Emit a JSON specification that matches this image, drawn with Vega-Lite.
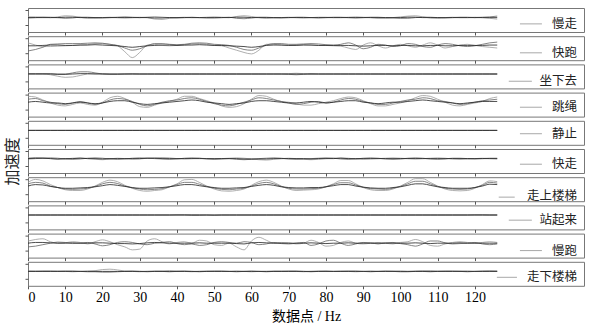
{
"$schema": "https://vega.github.io/schema/vega-lite/v6.json",
"background": "white",
"padding": {"left": 4, "top": 7, "right": 5, "bottom": 4},
"spacing": 4.2,
"bounds": "flush",
"config": {
  "view": {"stroke": "#777", "strokeWidth": 1},
  "axis": {"grid": false, "domain": false, "tickColor": "#555", "tickSize": 3, "labels": false, "titleFontWeight": "normal"}
},
"datasets": {
"d": [
{"act":"慢走","t":0,"x":0.1,"y":-0.05,"z":0},{"act":"慢走","t":2,"x":0.1,"y":0,"z":0},{"act":"慢走","t":4,"x":0.05,"y":0.05,"z":0},{"act":"慢走","t":6,"x":0,"y":0.05,"z":0},{"act":"慢走","t":8,"x":0.1,"y":0,"z":0},{"act":"慢走","t":10,"x":0.25,"y":-0.1,"z":0.05},{"act":"慢走","t":12,"x":0.2,"y":-0.05,"z":0.05},{"act":"慢走","t":14,"x":0.05,"y":0.05,"z":0},{"act":"慢走","t":16,"x":-0.1,"y":0.05,"z":0},{"act":"慢走","t":18,"x":-0.1,"y":0,"z":0},{"act":"慢走","t":20,"x":0,"y":-0.05,"z":0},{"act":"慢走","t":22,"x":0.05,"y":0,"z":0},{"act":"慢走","t":24,"x":0,"y":0.05,"z":0},{"act":"慢走","t":26,"x":-0.05,"y":0.1,"z":0},{"act":"慢走","t":28,"x":0,"y":0.05,"z":0},{"act":"慢走","t":30,"x":0.05,"y":0,"z":0},{"act":"慢走","t":32,"x":0,"y":0.05,"z":0},{"act":"慢走","t":34,"x":-0.2,"y":0.1,"z":-0.05},{"act":"慢走","t":36,"x":-0.25,"y":0.05,"z":-0.05},{"act":"慢走","t":38,"x":-0.1,"y":0,"z":0},{"act":"慢走","t":40,"x":0,"y":-0.05,"z":0},{"act":"慢走","t":42,"x":0.05,"y":0,"z":0},{"act":"慢走","t":44,"x":0,"y":0.05,"z":0},{"act":"慢走","t":46,"x":0,"y":0,"z":0},{"act":"慢走","t":48,"x":0.05,"y":-0.05,"z":0},{"act":"慢走","t":50,"x":0.1,"y":-0.05,"z":0},{"act":"慢走","t":52,"x":0.05,"y":0,"z":0},{"act":"慢走","t":54,"x":0,"y":0.05,"z":0},{"act":"慢走","t":56,"x":0.15,"y":-0.1,"z":0.05},{"act":"慢走","t":58,"x":0.25,"y":-0.15,"z":0.05},{"act":"慢走","t":60,"x":0.15,"y":-0.05,"z":0},{"act":"慢走","t":62,"x":0,"y":0.05,"z":0},{"act":"慢走","t":64,"x":-0.1,"y":0.05,"z":0},{"act":"慢走","t":66,"x":-0.05,"y":0,"z":0},{"act":"慢走","t":68,"x":0,"y":-0.05,"z":0},{"act":"慢走","t":70,"x":0.05,"y":0,"z":0},{"act":"慢走","t":72,"x":0,"y":0.05,"z":0},{"act":"慢走","t":74,"x":-0.05,"y":0.05,"z":0},{"act":"慢走","t":76,"x":0,"y":0,"z":0},{"act":"慢走","t":78,"x":0.05,"y":-0.05,"z":0},{"act":"慢走","t":80,"x":0.05,"y":0,"z":0},{"act":"慢走","t":82,"x":0,"y":0.05,"z":0},{"act":"慢走","t":84,"x":0,"y":0.05,"z":0},{"act":"慢走","t":86,"x":0.05,"y":0,"z":0},{"act":"慢走","t":88,"x":0.1,"y":-0.05,"z":0},{"act":"慢走","t":90,"x":0.05,"y":0,"z":0},{"act":"慢走","t":92,"x":0,"y":0.05,"z":0},{"act":"慢走","t":94,"x":-0.1,"y":0.05,"z":0},{"act":"慢走","t":96,"x":-0.1,"y":0,"z":0},{"act":"慢走","t":98,"x":0,"y":-0.05,"z":0},{"act":"慢走","t":100,"x":0.1,"y":-0.1,"z":0},{"act":"慢走","t":102,"x":0.2,"y":-0.1,"z":0.05},{"act":"慢走","t":104,"x":0.25,"y":0,"z":0.05},{"act":"慢走","t":106,"x":0.1,"y":0.05,"z":0},{"act":"慢走","t":108,"x":-0.05,"y":0.05,"z":0},{"act":"慢走","t":110,"x":-0.1,"y":0,"z":0},{"act":"慢走","t":112,"x":0,"y":-0.05,"z":0},{"act":"慢走","t":114,"x":0.05,"y":0,"z":0},{"act":"慢走","t":116,"x":0,"y":0.05,"z":0},{"act":"慢走","t":118,"x":0,"y":0.05,"z":0},{"act":"慢走","t":120,"x":0.05,"y":0,"z":0},{"act":"慢走","t":122,"x":0,"y":0.05,"z":0},{"act":"慢走","t":124,"x":-0.1,"y":0.1,"z":0},{"act":"慢走","t":126,"x":-0.2,"y":0.2,"z":0},
{"act":"快跑","t":0,"x":0.4,"y":-0.7,"z":0},{"act":"快跑","t":2,"x":0.1,"y":-0.5,"z":0},{"act":"快跑","t":4,"x":-0.1,"y":-0.2,"z":0.05},{"act":"快跑","t":6,"x":-0.1,"y":0.2,"z":0.1},{"act":"快跑","t":8,"x":-0.05,"y":0.25,"z":0.1},{"act":"快跑","t":10,"x":0,"y":0.3,"z":0.05},{"act":"快跑","t":12,"x":0.05,"y":0.3,"z":0.05},{"act":"快跑","t":14,"x":0.1,"y":0.3,"z":0.1},{"act":"快跑","t":16,"x":0.15,"y":0.35,"z":0.1},{"act":"快跑","t":18,"x":0.3,"y":0.4,"z":0.15},{"act":"快跑","t":20,"x":0.3,"y":0.35,"z":0.1},{"act":"快跑","t":22,"x":0.2,"y":0.2,"z":0.05},{"act":"快跑","t":24,"x":0,"y":0.05,"z":0},{"act":"快跑","t":26,"x":-0.8,"y":-0.3,"z":-0.1},{"act":"快跑","t":28,"x":-1.6,"y":-0.6,"z":-0.2},{"act":"快跑","t":30,"x":-0.9,"y":-0.4,"z":-0.1},{"act":"快跑","t":32,"x":0.1,"y":0,"z":0},{"act":"快跑","t":34,"x":0.2,"y":0.3,"z":0.05},{"act":"快跑","t":36,"x":0.05,"y":0.3,"z":0.1},{"act":"快跑","t":38,"x":0,"y":0.2,"z":0.1},{"act":"快跑","t":40,"x":0.05,"y":0.15,"z":0.05},{"act":"快跑","t":42,"x":0.1,"y":0.2,"z":0.1},{"act":"快跑","t":44,"x":0.25,"y":0.35,"z":0.1},{"act":"快跑","t":46,"x":0.3,"y":0.4,"z":0.15},{"act":"快跑","t":48,"x":0.2,"y":0.35,"z":0.1},{"act":"快跑","t":50,"x":0.05,"y":0.2,"z":0.05},{"act":"快跑","t":52,"x":0,"y":0.15,"z":0.05},{"act":"快跑","t":54,"x":-0.3,"y":0.05,"z":0},{"act":"快跑","t":56,"x":-0.6,"y":-0.2,"z":-0.05},{"act":"快跑","t":58,"x":-0.9,"y":-0.5,"z":-0.1},{"act":"快跑","t":60,"x":-1.1,"y":-0.6,"z":-0.2},{"act":"快跑","t":62,"x":-0.6,"y":-0.3,"z":-0.1},{"act":"快跑","t":64,"x":0.2,"y":0.1,"z":0.05},{"act":"快跑","t":66,"x":0.2,"y":0.3,"z":0.1},{"act":"快跑","t":68,"x":0.1,"y":0.3,"z":0.1},{"act":"快跑","t":70,"x":0.05,"y":0.2,"z":0.05},{"act":"快跑","t":72,"x":0.1,"y":0.2,"z":0.05},{"act":"快跑","t":74,"x":0.15,"y":0.25,"z":0.1},{"act":"快跑","t":76,"x":0.1,"y":0.3,"z":0.1},{"act":"快跑","t":78,"x":0.05,"y":0.25,"z":0.05},{"act":"快跑","t":80,"x":0.05,"y":0.15,"z":0.05},{"act":"快跑","t":82,"x":0,"y":0.1,"z":0.05},{"act":"快跑","t":84,"x":-0.05,"y":0.2,"z":0.05},{"act":"快跑","t":86,"x":-0.3,"y":0.4,"z":0.05},{"act":"快跑","t":88,"x":-0.5,"y":0.1,"z":0},{"act":"快跑","t":90,"x":0.1,"y":-0.4,"z":-0.05},{"act":"快跑","t":92,"x":0.4,"y":-0.2,"z":0},{"act":"快跑","t":94,"x":0,"y":0.2,"z":0.05},{"act":"快跑","t":96,"x":-0.3,"y":0.1,"z":0.05},{"act":"快跑","t":98,"x":0,"y":-0.1,"z":0},{"act":"快跑","t":100,"x":0.2,"y":0,"z":0.05},{"act":"快跑","t":102,"x":0,"y":0.3,"z":0.05},{"act":"快跑","t":104,"x":-0.2,"y":0.2,"z":0},{"act":"快跑","t":106,"x":0.1,"y":-0.1,"z":0},{"act":"快跑","t":108,"x":0.4,"y":-0.2,"z":0.05},{"act":"快跑","t":110,"x":0.1,"y":0.1,"z":0.05},{"act":"快跑","t":112,"x":-0.3,"y":0.3,"z":0},{"act":"快跑","t":114,"x":-0.1,"y":0.2,"z":0},{"act":"快跑","t":116,"x":0.1,"y":0,"z":0.05},{"act":"快跑","t":118,"x":0.2,"y":-0.1,"z":0.05},{"act":"快跑","t":120,"x":0.05,"y":0,"z":0.05},{"act":"快跑","t":122,"x":-0.1,"y":0.2,"z":0.05},{"act":"快跑","t":124,"x":-0.2,"y":0.4,"z":0.1},{"act":"快跑","t":126,"x":-0.3,"y":0.5,"z":0.1},
{"act":"坐下去","t":0,"x":0,"y":0.05,"z":0},{"act":"坐下去","t":2,"x":0,"y":0.05,"z":0},{"act":"坐下去","t":4,"x":0,"y":0.05,"z":0},{"act":"坐下去","t":6,"x":-0.1,"y":0.05,"z":0},{"act":"坐下去","t":8,"x":-0.3,"y":0,"z":-0.05},{"act":"坐下去","t":10,"x":-0.45,"y":0,"z":-0.05},{"act":"坐下去","t":12,"x":-0.4,"y":0.15,"z":0},{"act":"坐下去","t":14,"x":-0.2,"y":0.3,"z":0.05},{"act":"坐下去","t":16,"x":0,"y":0.3,"z":0.05},{"act":"坐下去","t":18,"x":0.05,"y":0.15,"z":0},{"act":"坐下去","t":20,"x":0.05,"y":0,"z":0},{"act":"坐下去","t":22,"x":0,"y":-0.05,"z":0},{"act":"坐下去","t":24,"x":0,"y":-0.05,"z":0},{"act":"坐下去","t":26,"x":0,"y":0,"z":0},{"act":"坐下去","t":28,"x":0.05,"y":0,"z":0},{"act":"坐下去","t":30,"x":0,"y":0,"z":0},{"act":"坐下去","t":32,"x":0,"y":0,"z":0},{"act":"坐下去","t":34,"x":0,"y":0,"z":0},{"act":"坐下去","t":36,"x":0,"y":0,"z":0},{"act":"坐下去","t":38,"x":0,"y":0,"z":0},{"act":"坐下去","t":40,"x":0,"y":0,"z":0},{"act":"坐下去","t":42,"x":0,"y":0,"z":0},{"act":"坐下去","t":44,"x":0,"y":0,"z":0},{"act":"坐下去","t":46,"x":0,"y":0,"z":0},{"act":"坐下去","t":48,"x":0,"y":0,"z":0},{"act":"坐下去","t":50,"x":0,"y":0,"z":0},{"act":"坐下去","t":52,"x":0,"y":0,"z":0},{"act":"坐下去","t":54,"x":0,"y":0,"z":0},{"act":"坐下去","t":56,"x":0,"y":0,"z":0},{"act":"坐下去","t":58,"x":0,"y":0,"z":0},{"act":"坐下去","t":60,"x":0,"y":0,"z":0},{"act":"坐下去","t":62,"x":0,"y":0,"z":0},{"act":"坐下去","t":64,"x":0,"y":0,"z":0},{"act":"坐下去","t":66,"x":0,"y":0,"z":0},{"act":"坐下去","t":68,"x":0,"y":0,"z":0},{"act":"坐下去","t":70,"x":0.05,"y":-0.05,"z":0},{"act":"坐下去","t":72,"x":0.1,"y":-0.1,"z":0},{"act":"坐下去","t":74,"x":0.05,"y":-0.05,"z":0},{"act":"坐下去","t":76,"x":-0.05,"y":0.05,"z":0},{"act":"坐下去","t":78,"x":0,"y":0,"z":0},{"act":"坐下去","t":80,"x":0,"y":0,"z":0},{"act":"坐下去","t":82,"x":0,"y":0,"z":0},{"act":"坐下去","t":84,"x":0,"y":0,"z":0},{"act":"坐下去","t":86,"x":0,"y":0,"z":0},{"act":"坐下去","t":88,"x":0,"y":0,"z":0},{"act":"坐下去","t":90,"x":0,"y":0,"z":0},{"act":"坐下去","t":92,"x":0,"y":0,"z":0},{"act":"坐下去","t":94,"x":0,"y":0,"z":0},{"act":"坐下去","t":96,"x":0,"y":0,"z":0},{"act":"坐下去","t":98,"x":0,"y":0,"z":0},{"act":"坐下去","t":100,"x":0,"y":0,"z":0},{"act":"坐下去","t":102,"x":0,"y":0,"z":0},{"act":"坐下去","t":104,"x":0,"y":0,"z":0},{"act":"坐下去","t":106,"x":0,"y":0,"z":0},{"act":"坐下去","t":108,"x":0,"y":0,"z":0},{"act":"坐下去","t":110,"x":0,"y":0,"z":0},{"act":"坐下去","t":112,"x":0,"y":0,"z":0},{"act":"坐下去","t":114,"x":0,"y":0,"z":0},{"act":"坐下去","t":116,"x":0,"y":0,"z":0},{"act":"坐下去","t":118,"x":0,"y":0,"z":0},{"act":"坐下去","t":120,"x":0,"y":0,"z":0},{"act":"坐下去","t":122,"x":0,"y":0,"z":0},{"act":"坐下去","t":124,"x":0,"y":0,"z":0},{"act":"坐下去","t":126,"x":0,"y":0,"z":0},
{"act":"跳绳","t":0,"x":0.8,"y":0.4,"z":0},{"act":"跳绳","t":2,"x":0.7,"y":0.5,"z":0.1},{"act":"跳绳","t":4,"x":0.3,"y":0.2,"z":0},{"act":"跳绳","t":6,"x":-0.1,"y":0,"z":-0.1},{"act":"跳绳","t":8,"x":-0.4,"y":-0.2,"z":-0.1},{"act":"跳绳","t":10,"x":-0.5,"y":-0.3,"z":-0.2},{"act":"跳绳","t":12,"x":-0.3,"y":-0.1,"z":-0.1},{"act":"跳绳","t":14,"x":-0.1,"y":0.1,"z":0},{"act":"跳绳","t":16,"x":-0.3,"y":-0.1,"z":-0.1},{"act":"跳绳","t":18,"x":-0.4,"y":-0.3,"z":-0.2},{"act":"跳绳","t":20,"x":0,"y":-0.1,"z":-0.1},{"act":"跳绳","t":22,"x":0.6,"y":0.3,"z":0.1},{"act":"跳绳","t":24,"x":0.8,"y":0.5,"z":0.2},{"act":"跳绳","t":26,"x":0.5,"y":0.4,"z":0.2},{"act":"跳绳","t":28,"x":0,"y":0.1,"z":0},{"act":"跳绳","t":30,"x":-0.6,"y":-0.3,"z":-0.2},{"act":"跳绳","t":32,"x":-0.7,"y":-0.5,"z":-0.3},{"act":"跳绳","t":34,"x":-0.4,"y":-0.3,"z":-0.2},{"act":"跳绳","t":36,"x":-0.1,"y":0,"z":-0.1},{"act":"跳绳","t":38,"x":0.1,"y":0.2,"z":0},{"act":"跳绳","t":40,"x":0.4,"y":0.3,"z":0.1},{"act":"跳绳","t":42,"x":0.8,"y":0.5,"z":0.2},{"act":"跳绳","t":44,"x":0.8,"y":0.6,"z":0.3},{"act":"跳绳","t":46,"x":0.5,"y":0.4,"z":0.2},{"act":"跳绳","t":48,"x":0.2,"y":0.1,"z":0},{"act":"跳绳","t":50,"x":-0.1,"y":-0.2,"z":-0.1},{"act":"跳绳","t":52,"x":-0.5,"y":-0.4,"z":-0.2},{"act":"跳绳","t":54,"x":-0.7,"y":-0.5,"z":-0.3},{"act":"跳绳","t":56,"x":-0.6,"y":-0.3,"z":-0.2},{"act":"跳绳","t":58,"x":-0.2,"y":0,"z":-0.1},{"act":"跳绳","t":60,"x":0.4,"y":0.3,"z":0.1},{"act":"跳绳","t":62,"x":0.9,"y":0.6,"z":0.2},{"act":"跳绳","t":64,"x":0.8,"y":0.5,"z":0.2},{"act":"跳绳","t":66,"x":0.4,"y":0.3,"z":0.1},{"act":"跳绳","t":68,"x":0.1,"y":0.1,"z":0},{"act":"跳绳","t":70,"x":0,"y":-0.1,"z":-0.1},{"act":"跳绳","t":72,"x":-0.2,"y":-0.3,"z":-0.1},{"act":"跳绳","t":74,"x":-0.4,"y":-0.2,"z":0},{"act":"跳绳","t":76,"x":-0.4,"y":0,"z":0.1},{"act":"跳绳","t":78,"x":-0.2,"y":0.1,"z":0},{"act":"跳绳","t":80,"x":0,"y":-0.1,"z":-0.1},{"act":"跳绳","t":82,"x":0.2,"y":0,"z":0},{"act":"跳绳","t":84,"x":0.5,"y":0.3,"z":0.1},{"act":"跳绳","t":86,"x":0.7,"y":0.5,"z":0.2},{"act":"跳绳","t":88,"x":0.6,"y":0.4,"z":0.2},{"act":"跳绳","t":90,"x":0.2,"y":0.1,"z":0},{"act":"跳绳","t":92,"x":-0.2,"y":-0.1,"z":-0.1},{"act":"跳绳","t":94,"x":-0.5,"y":-0.3,"z":-0.2},{"act":"跳绳","t":96,"x":-0.5,"y":-0.3,"z":-0.1},{"act":"跳绳","t":98,"x":-0.3,"y":-0.1,"z":0},{"act":"跳绳","t":100,"x":-0.1,"y":0.1,"z":0},{"act":"跳绳","t":102,"x":0.2,"y":0.3,"z":0.1},{"act":"跳绳","t":104,"x":0.6,"y":0.4,"z":0.2},{"act":"跳绳","t":106,"x":0.9,"y":0.6,"z":0.3},{"act":"跳绳","t":108,"x":0.8,"y":0.5,"z":0.2},{"act":"跳绳","t":110,"x":0.4,"y":0.2,"z":0.1},{"act":"跳绳","t":112,"x":0,"y":0.1,"z":0},{"act":"跳绳","t":114,"x":-0.4,"y":-0.1,"z":-0.1},{"act":"跳绳","t":116,"x":-0.5,"y":-0.3,"z":-0.2},{"act":"跳绳","t":118,"x":-0.3,"y":-0.2,"z":-0.1},{"act":"跳绳","t":120,"x":-0.1,"y":0,"z":0},{"act":"跳绳","t":122,"x":0.1,"y":0.2,"z":0.1},{"act":"跳绳","t":124,"x":0.5,"y":0.3,"z":0.1},{"act":"跳绳","t":126,"x":0.7,"y":0.4,"z":0.1},
{"act":"静止","t":0,"x":0,"y":0,"z":0},{"act":"静止","t":2,"x":0,"y":0,"z":0},{"act":"静止","t":4,"x":0,"y":0,"z":0},{"act":"静止","t":6,"x":0,"y":0,"z":0},{"act":"静止","t":8,"x":0,"y":0,"z":0},{"act":"静止","t":10,"x":0,"y":0,"z":0},{"act":"静止","t":12,"x":0,"y":0,"z":0},{"act":"静止","t":14,"x":0,"y":0,"z":0},{"act":"静止","t":16,"x":0,"y":0,"z":0},{"act":"静止","t":18,"x":0,"y":0,"z":0},{"act":"静止","t":20,"x":0,"y":0,"z":0},{"act":"静止","t":22,"x":0,"y":0,"z":0},{"act":"静止","t":24,"x":0,"y":0,"z":0},{"act":"静止","t":26,"x":0,"y":0,"z":0},{"act":"静止","t":28,"x":0,"y":0,"z":0},{"act":"静止","t":30,"x":0,"y":0,"z":0},{"act":"静止","t":32,"x":0,"y":0,"z":0},{"act":"静止","t":34,"x":0,"y":0,"z":0},{"act":"静止","t":36,"x":0,"y":0,"z":0},{"act":"静止","t":38,"x":0,"y":0,"z":0},{"act":"静止","t":40,"x":0,"y":0,"z":0},{"act":"静止","t":42,"x":0,"y":0,"z":0},{"act":"静止","t":44,"x":0,"y":0,"z":0},{"act":"静止","t":46,"x":0,"y":0,"z":0},{"act":"静止","t":48,"x":0,"y":0,"z":0},{"act":"静止","t":50,"x":0,"y":0,"z":0},{"act":"静止","t":52,"x":0,"y":0,"z":0},{"act":"静止","t":54,"x":0,"y":0,"z":0},{"act":"静止","t":56,"x":0,"y":0,"z":0},{"act":"静止","t":58,"x":0,"y":0,"z":0},{"act":"静止","t":60,"x":0,"y":0,"z":0},{"act":"静止","t":62,"x":0,"y":0,"z":0},{"act":"静止","t":64,"x":0,"y":0,"z":0},{"act":"静止","t":66,"x":0,"y":0,"z":0},{"act":"静止","t":68,"x":0,"y":0,"z":0},{"act":"静止","t":70,"x":0,"y":0,"z":0},{"act":"静止","t":72,"x":0,"y":0,"z":0},{"act":"静止","t":74,"x":0,"y":0,"z":0},{"act":"静止","t":76,"x":0,"y":0,"z":0},{"act":"静止","t":78,"x":0,"y":0,"z":0},{"act":"静止","t":80,"x":0,"y":0,"z":0},{"act":"静止","t":82,"x":0,"y":0,"z":0},{"act":"静止","t":84,"x":0,"y":0,"z":0},{"act":"静止","t":86,"x":0,"y":0,"z":0},{"act":"静止","t":88,"x":0,"y":0,"z":0},{"act":"静止","t":90,"x":0,"y":0,"z":0},{"act":"静止","t":92,"x":0,"y":0,"z":0},{"act":"静止","t":94,"x":0,"y":0,"z":0},{"act":"静止","t":96,"x":0,"y":0,"z":0},{"act":"静止","t":98,"x":0,"y":0,"z":0},{"act":"静止","t":100,"x":0,"y":0,"z":0},{"act":"静止","t":102,"x":0,"y":0,"z":0},{"act":"静止","t":104,"x":0,"y":0,"z":0},{"act":"静止","t":106,"x":0,"y":0,"z":0},{"act":"静止","t":108,"x":0,"y":0,"z":0},{"act":"静止","t":110,"x":0,"y":0,"z":0},{"act":"静止","t":112,"x":0,"y":0,"z":0},{"act":"静止","t":114,"x":0,"y":0,"z":0},{"act":"静止","t":116,"x":0,"y":0,"z":0},{"act":"静止","t":118,"x":0,"y":0,"z":0},{"act":"静止","t":120,"x":0,"y":0,"z":0},{"act":"静止","t":122,"x":0,"y":0,"z":0},{"act":"静止","t":124,"x":0,"y":0,"z":0},{"act":"静止","t":126,"x":0,"y":0,"z":0},
{"act":"快走","t":0,"x":0.1,"y":-0.05,"z":0},{"act":"快走","t":2,"x":0.15,"y":0,"z":0.05},{"act":"快走","t":4,"x":0.1,"y":0.05,"z":0.05},{"act":"快走","t":6,"x":0,"y":0.1,"z":0},{"act":"快走","t":8,"x":-0.1,"y":0.05,"z":-0.05},{"act":"快走","t":10,"x":-0.05,"y":-0.05,"z":0},{"act":"快走","t":12,"x":0.05,"y":-0.1,"z":0},{"act":"快走","t":14,"x":0.1,"y":-0.05,"z":0.05},{"act":"快走","t":16,"x":0,"y":0.05,"z":0},{"act":"快走","t":18,"x":-0.1,"y":0.1,"z":0},{"act":"快走","t":20,"x":-0.15,"y":0.05,"z":-0.05},{"act":"快走","t":22,"x":-0.05,"y":-0.05,"z":0},{"act":"快走","t":24,"x":0.05,"y":-0.1,"z":0},{"act":"快走","t":26,"x":0,"y":-0.05,"z":0},{"act":"快走","t":28,"x":-0.1,"y":0.05,"z":0},{"act":"快走","t":30,"x":-0.05,"y":0.1,"z":0},{"act":"快走","t":32,"x":0.05,"y":0.05,"z":0.05},{"act":"快走","t":34,"x":0.1,"y":0,"z":0.05},{"act":"快走","t":36,"x":0.15,"y":-0.05,"z":0},{"act":"快走","t":38,"x":0.1,"y":-0.1,"z":0},{"act":"快走","t":40,"x":0,"y":-0.05,"z":0},{"act":"快走","t":42,"x":-0.05,"y":0.05,"z":0},{"act":"快走","t":44,"x":0,"y":0.1,"z":0},{"act":"快走","t":46,"x":0.05,"y":0.05,"z":0},{"act":"快走","t":48,"x":0,"y":-0.05,"z":0},{"act":"快走","t":50,"x":-0.05,"y":-0.1,"z":0},{"act":"快走","t":52,"x":0,"y":-0.05,"z":0},{"act":"快走","t":54,"x":0.05,"y":0,"z":0},{"act":"快走","t":56,"x":0.1,"y":-0.1,"z":0},{"act":"快走","t":58,"x":0.05,"y":-0.15,"z":-0.05},{"act":"快走","t":60,"x":-0.05,"y":-0.1,"z":-0.05},{"act":"快走","t":62,"x":-0.15,"y":0,"z":-0.05},{"act":"快走","t":64,"x":-0.2,"y":0.05,"z":-0.05},{"act":"快走","t":66,"x":-0.1,"y":0.1,"z":0},{"act":"快走","t":68,"x":0,"y":0.05,"z":0},{"act":"快走","t":70,"x":0.05,"y":-0.05,"z":0},{"act":"快走","t":72,"x":0,"y":-0.1,"z":0},{"act":"快走","t":74,"x":-0.1,"y":-0.05,"z":0},{"act":"快走","t":76,"x":-0.15,"y":0,"z":-0.05},{"act":"快走","t":78,"x":-0.1,"y":0.05,"z":0},{"act":"快走","t":80,"x":0,"y":0.1,"z":0},{"act":"快走","t":82,"x":0.05,"y":0.05,"z":0},{"act":"快走","t":84,"x":0.1,"y":-0.05,"z":0.05},{"act":"快走","t":86,"x":0.05,"y":-0.1,"z":0},{"act":"快走","t":88,"x":-0.05,"y":-0.05,"z":0},{"act":"快走","t":90,"x":-0.1,"y":0.05,"z":0},{"act":"快走","t":92,"x":-0.05,"y":0.1,"z":0},{"act":"快走","t":94,"x":0,"y":0.05,"z":0},{"act":"快走","t":96,"x":0.05,"y":-0.05,"z":0},{"act":"快走","t":98,"x":0.1,"y":-0.1,"z":0},{"act":"快走","t":100,"x":0.05,"y":-0.05,"z":0},{"act":"快走","t":102,"x":0,"y":0.05,"z":0},{"act":"快走","t":104,"x":-0.05,"y":0.1,"z":0},{"act":"快走","t":106,"x":0,"y":0.05,"z":0},{"act":"快走","t":108,"x":0.05,"y":-0.05,"z":0},{"act":"快走","t":110,"x":0.1,"y":-0.1,"z":0},{"act":"快走","t":112,"x":0.05,"y":-0.05,"z":0},{"act":"快走","t":114,"x":-0.05,"y":0.05,"z":0},{"act":"快走","t":116,"x":-0.1,"y":0.05,"z":0},{"act":"快走","t":118,"x":-0.05,"y":0,"z":0},{"act":"快走","t":120,"x":0,"y":-0.05,"z":0},{"act":"快走","t":122,"x":0.05,"y":0,"z":0},{"act":"快走","t":124,"x":0,"y":0.05,"z":0},{"act":"快走","t":126,"x":-0.05,"y":0.05,"z":0},
{"act":"走上楼梯","t":0,"x":0.6,"y":0.4,"z":0.1},{"act":"走上楼梯","t":2,"x":1.0,"y":0.6,"z":0.3},{"act":"走上楼梯","t":4,"x":0.8,"y":0.5,"z":0.25},{"act":"走上楼梯","t":6,"x":0.3,"y":0.1,"z":0.05},{"act":"走上楼梯","t":8,"x":-0.1,"y":-0.1,"z":-0.1},{"act":"走上楼梯","t":10,"x":-0.4,"y":-0.3,"z":-0.2},{"act":"走上楼梯","t":12,"x":-0.5,"y":-0.35,"z":-0.2},{"act":"走上楼梯","t":14,"x":-0.5,"y":-0.3,"z":-0.15},{"act":"走上楼梯","t":16,"x":-0.3,"y":-0.2,"z":-0.1},{"act":"走上楼梯","t":18,"x":0.1,"y":0.05,"z":0},{"act":"走上楼梯","t":20,"x":0.6,"y":0.4,"z":0.15},{"act":"走上楼梯","t":22,"x":0.9,"y":0.6,"z":0.3},{"act":"走上楼梯","t":24,"x":0.7,"y":0.45,"z":0.2},{"act":"走上楼梯","t":26,"x":0.2,"y":0.1,"z":0.05},{"act":"走上楼梯","t":28,"x":-0.2,"y":-0.15,"z":-0.1},{"act":"走上楼梯","t":30,"x":-0.5,"y":-0.3,"z":-0.2},{"act":"走上楼梯","t":32,"x":-0.6,"y":-0.4,"z":-0.2},{"act":"走上楼梯","t":34,"x":-0.5,"y":-0.35,"z":-0.15},{"act":"走上楼梯","t":36,"x":-0.4,"y":-0.25,"z":-0.1},{"act":"走上楼梯","t":38,"x":0,"y":0,"z":0},{"act":"走上楼梯","t":40,"x":0.4,"y":0.3,"z":0.15},{"act":"走上楼梯","t":42,"x":0.95,"y":0.6,"z":0.3},{"act":"走上楼梯","t":44,"x":1.0,"y":0.6,"z":0.3},{"act":"走上楼梯","t":46,"x":0.6,"y":0.35,"z":0.15},{"act":"走上楼梯","t":48,"x":0.1,"y":0.05,"z":0},{"act":"走上楼梯","t":50,"x":-0.3,"y":-0.2,"z":-0.1},{"act":"走上楼梯","t":52,"x":-0.55,"y":-0.35,"z":-0.2},{"act":"走上楼梯","t":54,"x":-0.6,"y":-0.4,"z":-0.2},{"act":"走上楼梯","t":56,"x":-0.5,"y":-0.3,"z":-0.15},{"act":"走上楼梯","t":58,"x":-0.3,"y":-0.2,"z":-0.1},{"act":"走上楼梯","t":60,"x":0.2,"y":0.1,"z":0.05},{"act":"走上楼梯","t":62,"x":0.7,"y":0.45,"z":0.2},{"act":"走上楼梯","t":64,"x":0.9,"y":0.6,"z":0.3},{"act":"走上楼梯","t":66,"x":0.6,"y":0.4,"z":0.2},{"act":"走上楼梯","t":68,"x":0.1,"y":0.05,"z":0},{"act":"走上楼梯","t":70,"x":-0.3,"y":-0.2,"z":-0.1},{"act":"走上楼梯","t":72,"x":-0.5,"y":-0.3,"z":-0.15},{"act":"走上楼梯","t":74,"x":-0.45,"y":-0.3,"z":-0.15},{"act":"走上楼梯","t":76,"x":-0.4,"y":-0.25,"z":-0.1},{"act":"走上楼梯","t":78,"x":-0.3,"y":-0.2,"z":-0.1},{"act":"走上楼梯","t":80,"x":0,"y":0,"z":0},{"act":"走上楼梯","t":82,"x":0.4,"y":0.3,"z":0.15},{"act":"走上楼梯","t":84,"x":0.85,"y":0.55,"z":0.3},{"act":"走上楼梯","t":86,"x":0.85,"y":0.55,"z":0.3},{"act":"走上楼梯","t":88,"x":0.4,"y":0.25,"z":0.1},{"act":"走上楼梯","t":90,"x":-0.1,"y":-0.05,"z":-0.05},{"act":"走上楼梯","t":92,"x":-0.4,"y":-0.25,"z":-0.15},{"act":"走上楼梯","t":94,"x":-0.5,"y":-0.3,"z":-0.2},{"act":"走上楼梯","t":96,"x":-0.5,"y":-0.35,"z":-0.2},{"act":"走上楼梯","t":98,"x":-0.3,"y":-0.2,"z":-0.1},{"act":"走上楼梯","t":100,"x":0.1,"y":0.05,"z":0},{"act":"走上楼梯","t":102,"x":0.6,"y":0.4,"z":0.2},{"act":"走上楼梯","t":104,"x":1.1,"y":0.75,"z":0.4},{"act":"走上楼梯","t":106,"x":1.1,"y":0.75,"z":0.4},{"act":"走上楼梯","t":108,"x":0.6,"y":0.4,"z":0.2},{"act":"走上楼梯","t":110,"x":0.1,"y":0.05,"z":0},{"act":"走上楼梯","t":112,"x":-0.3,"y":-0.2,"z":-0.1},{"act":"走上楼梯","t":114,"x":-0.5,"y":-0.3,"z":-0.2},{"act":"走上楼梯","t":116,"x":-0.55,"y":-0.35,"z":-0.2},{"act":"走上楼梯","t":118,"x":-0.5,"y":-0.3,"z":-0.2},{"act":"走上楼梯","t":120,"x":-0.2,"y":-0.1,"z":-0.1},{"act":"走上楼梯","t":122,"x":0.3,"y":0.2,"z":0.1},{"act":"走上楼梯","t":124,"x":0.8,"y":0.6,"z":0.35},{"act":"走上楼梯","t":126,"x":0.7,"y":0.5,"z":0.3},
{"act":"站起来","t":0,"x":0,"y":0,"z":0},{"act":"站起来","t":2,"x":0,"y":0,"z":0},{"act":"站起来","t":4,"x":0,"y":0,"z":0},{"act":"站起来","t":6,"x":0,"y":0,"z":0},{"act":"站起来","t":8,"x":0,"y":0,"z":0},{"act":"站起来","t":10,"x":0,"y":0,"z":0},{"act":"站起来","t":12,"x":0,"y":0,"z":0},{"act":"站起来","t":14,"x":0,"y":0,"z":0},{"act":"站起来","t":16,"x":0,"y":0,"z":0},{"act":"站起来","t":18,"x":0,"y":0,"z":0},{"act":"站起来","t":20,"x":0,"y":0,"z":0},{"act":"站起来","t":22,"x":0,"y":0,"z":0},{"act":"站起来","t":24,"x":0,"y":0,"z":0},{"act":"站起来","t":26,"x":0,"y":0,"z":0},{"act":"站起来","t":28,"x":0,"y":0,"z":0},{"act":"站起来","t":30,"x":0,"y":0,"z":0},{"act":"站起来","t":32,"x":0,"y":0,"z":0},{"act":"站起来","t":34,"x":0,"y":0,"z":0},{"act":"站起来","t":36,"x":0,"y":0,"z":0},{"act":"站起来","t":38,"x":0,"y":0,"z":0},{"act":"站起来","t":40,"x":0.05,"y":0,"z":0},{"act":"站起来","t":42,"x":0.05,"y":0,"z":0},{"act":"站起来","t":44,"x":0.05,"y":-0.05,"z":0},{"act":"站起来","t":46,"x":0.05,"y":-0.05,"z":0},{"act":"站起来","t":48,"x":0,"y":0,"z":0},{"act":"站起来","t":50,"x":0,"y":-0.05,"z":0},{"act":"站起来","t":52,"x":0,"y":0,"z":0},{"act":"站起来","t":54,"x":0,"y":0,"z":0},{"act":"站起来","t":56,"x":0,"y":0,"z":0},{"act":"站起来","t":58,"x":0,"y":0,"z":0},{"act":"站起来","t":60,"x":0,"y":0,"z":0},{"act":"站起来","t":62,"x":0,"y":0,"z":0},{"act":"站起来","t":64,"x":0,"y":0,"z":0},{"act":"站起来","t":66,"x":0,"y":0,"z":0},{"act":"站起来","t":68,"x":0,"y":0,"z":0},{"act":"站起来","t":70,"x":0,"y":0,"z":0},{"act":"站起来","t":72,"x":0,"y":0,"z":0},{"act":"站起来","t":74,"x":0,"y":0,"z":0},{"act":"站起来","t":76,"x":0,"y":0,"z":0},{"act":"站起来","t":78,"x":0,"y":0,"z":0},{"act":"站起来","t":80,"x":0,"y":0,"z":0},{"act":"站起来","t":82,"x":0,"y":0,"z":0},{"act":"站起来","t":84,"x":0,"y":0,"z":0},{"act":"站起来","t":86,"x":0,"y":0,"z":0},{"act":"站起来","t":88,"x":0,"y":0,"z":0},{"act":"站起来","t":90,"x":0,"y":0,"z":0},{"act":"站起来","t":92,"x":0,"y":0,"z":0},{"act":"站起来","t":94,"x":0,"y":0,"z":0},{"act":"站起来","t":96,"x":0,"y":0,"z":0},{"act":"站起来","t":98,"x":0,"y":0,"z":0},{"act":"站起来","t":100,"x":0,"y":0,"z":0},{"act":"站起来","t":102,"x":0,"y":0,"z":0},{"act":"站起来","t":104,"x":0,"y":0,"z":0},{"act":"站起来","t":106,"x":0,"y":0,"z":0},{"act":"站起来","t":108,"x":0,"y":0,"z":0},{"act":"站起来","t":110,"x":0,"y":0,"z":0},{"act":"站起来","t":112,"x":0,"y":0,"z":0},{"act":"站起来","t":114,"x":0,"y":0,"z":0},{"act":"站起来","t":116,"x":0,"y":0,"z":0},{"act":"站起来","t":118,"x":0,"y":0,"z":0},{"act":"站起来","t":120,"x":0.05,"y":0,"z":0},{"act":"站起来","t":122,"x":0.05,"y":0,"z":0},{"act":"站起来","t":124,"x":0,"y":0,"z":0},{"act":"站起来","t":126,"x":0,"y":0,"z":0},
{"act":"慢跑","t":0,"x":0.3,"y":-0.5,"z":0},{"act":"慢跑","t":2,"x":0.5,"y":-0.4,"z":0.1},{"act":"慢跑","t":4,"x":0.6,"y":-0.2,"z":0.1},{"act":"慢跑","t":6,"x":0.2,"y":0,"z":0.05},{"act":"慢跑","t":8,"x":0,"y":0.15,"z":0},{"act":"慢跑","t":10,"x":0.05,"y":0.1,"z":0},{"act":"慢跑","t":12,"x":0.2,"y":-0.05,"z":0.05},{"act":"慢跑","t":14,"x":0.1,"y":0,"z":0},{"act":"慢跑","t":16,"x":-0.1,"y":0.1,"z":0},{"act":"慢跑","t":18,"x":0.2,"y":-0.1,"z":0.05},{"act":"慢跑","t":20,"x":0.45,"y":-0.35,"z":0.05},{"act":"慢跑","t":22,"x":0.2,"y":-0.2,"z":0},{"act":"慢跑","t":24,"x":-0.2,"y":0.1,"z":-0.05},{"act":"慢跑","t":26,"x":-0.5,"y":0.2,"z":-0.05},{"act":"慢跑","t":28,"x":-0.9,"y":0.1,"z":-0.1},{"act":"慢跑","t":30,"x":-0.8,"y":-0.1,"z":-0.05},{"act":"慢跑","t":32,"x":0.3,"y":-0.2,"z":0.05},{"act":"慢跑","t":34,"x":0.6,"y":0,"z":0.1},{"act":"慢跑","t":36,"x":0.2,"y":0.1,"z":0.05},{"act":"慢跑","t":38,"x":-0.1,"y":0.2,"z":0},{"act":"慢跑","t":40,"x":0.1,"y":-0.05,"z":0},{"act":"慢跑","t":42,"x":0.2,"y":-0.2,"z":0},{"act":"慢跑","t":44,"x":0,"y":-0.1,"z":0},{"act":"慢跑","t":46,"x":0.4,"y":-0.3,"z":0.05},{"act":"慢跑","t":48,"x":0.3,"y":-0.2,"z":0},{"act":"慢跑","t":50,"x":-0.2,"y":0.1,"z":0},{"act":"慢跑","t":52,"x":-0.3,"y":0.2,"z":0},{"act":"慢跑","t":54,"x":0,"y":0.1,"z":0},{"act":"慢跑","t":56,"x":-0.5,"y":0,"z":-0.05},{"act":"慢跑","t":58,"x":-0.9,"y":0.2,"z":-0.1},{"act":"慢跑","t":60,"x":0.3,"y":0.1,"z":0.05},{"act":"慢跑","t":62,"x":0.8,"y":-0.2,"z":0.1},{"act":"慢跑","t":64,"x":0.4,"y":-0.1,"z":0.05},{"act":"慢跑","t":66,"x":0,"y":0.1,"z":0},{"act":"慢跑","t":68,"x":0.1,"y":-0.05,"z":0},{"act":"慢跑","t":70,"x":0.05,"y":-0.1,"z":0},{"act":"慢跑","t":72,"x":-0.1,"y":0,"z":0},{"act":"慢跑","t":74,"x":0,"y":0.1,"z":0},{"act":"慢跑","t":76,"x":0.4,"y":-0.3,"z":0.05},{"act":"慢跑","t":78,"x":0.1,"y":-0.1,"z":0},{"act":"慢跑","t":80,"x":-0.4,"y":0.3,"z":-0.05},{"act":"慢跑","t":82,"x":-0.3,"y":0.4,"z":0},{"act":"慢跑","t":84,"x":0.1,"y":0,"z":0},{"act":"慢跑","t":86,"x":0.3,"y":-0.3,"z":0.05},{"act":"慢跑","t":88,"x":0,"y":-0.1,"z":0},{"act":"慢跑","t":90,"x":-0.1,"y":0.1,"z":0},{"act":"慢跑","t":92,"x":0,"y":0.05,"z":0},{"act":"慢跑","t":94,"x":0.1,"y":-0.1,"z":0},{"act":"慢跑","t":96,"x":0,"y":0.05,"z":0},{"act":"慢跑","t":98,"x":-0.1,"y":0.1,"z":0},{"act":"慢跑","t":100,"x":0.1,"y":-0.05,"z":0},{"act":"慢跑","t":102,"x":0.2,"y":-0.2,"z":0},{"act":"慢跑","t":104,"x":0.5,"y":-0.4,"z":0.05},{"act":"慢跑","t":106,"x":0.2,"y":-0.1,"z":0},{"act":"慢跑","t":108,"x":-0.3,"y":0.3,"z":-0.05},{"act":"慢跑","t":110,"x":-0.4,"y":0.3,"z":0},{"act":"慢跑","t":112,"x":-0.1,"y":0.05,"z":0},{"act":"慢跑","t":114,"x":0.1,"y":-0.1,"z":0},{"act":"慢跑","t":116,"x":0.2,"y":-0.05,"z":0.05},{"act":"慢跑","t":118,"x":0.1,"y":0,"z":0},{"act":"慢跑","t":120,"x":0,"y":0.1,"z":0},{"act":"慢跑","t":122,"x":0.1,"y":-0.1,"z":0},{"act":"慢跑","t":124,"x":0.2,"y":-0.2,"z":0},{"act":"慢跑","t":126,"x":0.1,"y":-0.1,"z":0},
{"act":"走下楼梯","t":0,"x":0,"y":0.05,"z":0},{"act":"走下楼梯","t":2,"x":0.05,"y":0,"z":0},{"act":"走下楼梯","t":4,"x":0,"y":0.05,"z":0},{"act":"走下楼梯","t":6,"x":0,"y":0.05,"z":0},{"act":"走下楼梯","t":8,"x":0.05,"y":0,"z":0},{"act":"走下楼梯","t":10,"x":0,"y":0.05,"z":0},{"act":"走下楼梯","t":12,"x":-0.05,"y":0.05,"z":0},{"act":"走下楼梯","t":14,"x":0,"y":0,"z":0},{"act":"走下楼梯","t":16,"x":0.05,"y":-0.05,"z":0},{"act":"走下楼梯","t":18,"x":0.1,"y":-0.05,"z":0},{"act":"走下楼梯","t":20,"x":0.25,"y":-0.1,"z":0},{"act":"走下楼梯","t":22,"x":0.3,"y":-0.1,"z":0},{"act":"走下楼梯","t":24,"x":0.2,"y":-0.05,"z":0},{"act":"走下楼梯","t":26,"x":0.05,"y":0,"z":0},{"act":"走下楼梯","t":28,"x":0,"y":0.05,"z":0},{"act":"走下楼梯","t":30,"x":-0.05,"y":0,"z":0},{"act":"走下楼梯","t":32,"x":0,"y":-0.05,"z":0},{"act":"走下楼梯","t":34,"x":0.05,"y":0,"z":0},{"act":"走下楼梯","t":36,"x":0.05,"y":0,"z":0},{"act":"走下楼梯","t":38,"x":0.1,"y":-0.05,"z":0},{"act":"走下楼梯","t":40,"x":0.05,"y":0,"z":0},{"act":"走下楼梯","t":42,"x":0,"y":0.05,"z":0},{"act":"走下楼梯","t":44,"x":-0.05,"y":0,"z":0},{"act":"走下楼梯","t":46,"x":0,"y":-0.05,"z":0},{"act":"走下楼梯","t":48,"x":0.05,"y":0,"z":0},{"act":"走下楼梯","t":50,"x":0,"y":0.05,"z":0},{"act":"走下楼梯","t":52,"x":0,"y":0.05,"z":0},{"act":"走下楼梯","t":54,"x":0,"y":0,"z":0},{"act":"走下楼梯","t":56,"x":0.05,"y":-0.05,"z":0},{"act":"走下楼梯","t":58,"x":0,"y":0,"z":0},{"act":"走下楼梯","t":60,"x":-0.05,"y":0.05,"z":0},{"act":"走下楼梯","t":62,"x":0,"y":0,"z":0},{"act":"走下楼梯","t":64,"x":0,"y":-0.05,"z":0},{"act":"走下楼梯","t":66,"x":0.05,"y":0,"z":0},{"act":"走下楼梯","t":68,"x":0.05,"y":0,"z":0},{"act":"走下楼梯","t":70,"x":0,"y":0.05,"z":0},{"act":"走下楼梯","t":72,"x":0,"y":0.05,"z":0},{"act":"走下楼梯","t":74,"x":-0.05,"y":0,"z":0},{"act":"走下楼梯","t":76,"x":0,"y":-0.05,"z":0},{"act":"走下楼梯","t":78,"x":0.05,"y":0,"z":0},{"act":"走下楼梯","t":80,"x":0,"y":0.05,"z":0},{"act":"走下楼梯","t":82,"x":0,"y":0,"z":0},{"act":"走下楼梯","t":84,"x":0.05,"y":0,"z":0},{"act":"走下楼梯","t":86,"x":0,"y":0.05,"z":0},{"act":"走下楼梯","t":88,"x":-0.05,"y":0.05,"z":0},{"act":"走下楼梯","t":90,"x":0,"y":0,"z":0},{"act":"走下楼梯","t":92,"x":0.05,"y":-0.05,"z":0},{"act":"走下楼梯","t":94,"x":0,"y":0,"z":0},{"act":"走下楼梯","t":96,"x":0,"y":0.05,"z":0},{"act":"走下楼梯","t":98,"x":0.05,"y":0,"z":0},{"act":"走下楼梯","t":100,"x":0.05,"y":-0.05,"z":0},{"act":"走下楼梯","t":102,"x":0,"y":-0.05,"z":0},{"act":"走下楼梯","t":104,"x":0.05,"y":0,"z":0},{"act":"走下楼梯","t":106,"x":0.1,"y":0,"z":0},{"act":"走下楼梯","t":108,"x":0.1,"y":-0.05,"z":0},{"act":"走下楼梯","t":110,"x":0.05,"y":0,"z":0},{"act":"走下楼梯","t":112,"x":0,"y":0.05,"z":0},{"act":"走下楼梯","t":114,"x":0,"y":0.05,"z":0},{"act":"走下楼梯","t":116,"x":0.05,"y":0,"z":0},{"act":"走下楼梯","t":118,"x":0.05,"y":-0.05,"z":0},{"act":"走下楼梯","t":120,"x":0,"y":0,"z":0},{"act":"走下楼梯","t":122,"x":0,"y":0.05,"z":0},{"act":"走下楼梯","t":124,"x":0.05,"y":0.05,"z":0},{"act":"走下楼梯","t":126,"x":0,"y":0.05,"z":0}
]
},
"vconcat": [
{"width":556,"height":24,"layer":[
 {"data":{"name":"d"},"transform":[{"filter":{"field":"act","equal":"慢走"}},{"fold":["x","y","z"],"as":["axis","v"]}],
  "mark":{"type":"line","strokeWidth":0.8,"interpolate":"monotone"},
  "encoding":{"x":{"field":"t","type":"quantitative","scale":{"domain":[0,149.3],"nice":false},"axis":{"values":[0,10,20,30,40,50,60,70,80,90,100,110,120],"title":null}},
   "y":{"field":"v","type":"quantitative","scale":{"domain":[-1.95,1.3],"nice":false},"axis":{"values":[-1,0,1],"title":null}},
   "stroke":{"field":"axis","type":"nominal","scale":{"domain":["x","y","z"],"range":["#9a9a9a","#666666","#222222"]},"legend":null}}},
 {"data":{"values":[{}]},"mark":{"type":"rule","color":"#a8a8a8","strokeWidth":1},"encoding":{"x":{"datum":132.1},"x2":{"datum":138},"y":{"datum":-0.85}}},
 {"data":{"values":[{}]},"mark":{"type":"text","align":"right","baseline":"middle","font":"Noto Sans CJK SC","fontSize":12.5,"color":"#222"},"encoding":{"x":{"datum":147.4},"y":{"datum":-0.85},"text":{"value":"慢走"}}}
]},
{"width":556,"height":24,"layer":[
 {"data":{"name":"d"},"transform":[{"filter":{"field":"act","equal":"快跑"}},{"fold":["x","y","z"],"as":["axis","v"]}],
  "mark":{"type":"line","strokeWidth":0.8,"interpolate":"monotone"},
  "encoding":{"x":{"field":"t","type":"quantitative","scale":{"domain":[0,149.3],"nice":false},"axis":{"values":[0,10,20,30,40,50,60,70,80,90,100,110,120],"title":null}},
   "y":{"field":"v","type":"quantitative","scale":{"domain":[-1.95,1.3],"nice":false},"axis":{"values":[-1,0,1],"title":null}},
   "stroke":{"field":"axis","type":"nominal","scale":{"domain":["x","y","z"],"range":["#9a9a9a","#666666","#222222"]},"legend":null}}},
 {"data":{"values":[{}]},"mark":{"type":"rule","color":"#a8a8a8","strokeWidth":1},"encoding":{"x":{"datum":132.1},"x2":{"datum":138},"y":{"datum":-0.95}}},
 {"data":{"values":[{}]},"mark":{"type":"text","align":"right","baseline":"middle","font":"Noto Sans CJK SC","fontSize":12.5,"color":"#222"},"encoding":{"x":{"datum":147.4},"y":{"datum":-0.95},"text":{"value":"快跑"}}}
]},
{"width":556,"height":24,"layer":[
 {"data":{"name":"d"},"transform":[{"filter":{"field":"act","equal":"坐下去"}},{"fold":["x","y","z"],"as":["axis","v"]}],
  "mark":{"type":"line","strokeWidth":0.8,"interpolate":"monotone"},
  "encoding":{"x":{"field":"t","type":"quantitative","scale":{"domain":[0,149.3],"nice":false},"axis":{"values":[0,10,20,30,40,50,60,70,80,90,100,110,120],"title":null}},
   "y":{"field":"v","type":"quantitative","scale":{"domain":[-1.95,1.3],"nice":false},"axis":{"values":[-1,0,1],"title":null}},
   "stroke":{"field":"axis","type":"nominal","scale":{"domain":["x","y","z"],"range":["#9a9a9a","#666666","#222222"]},"legend":null}}},
 {"data":{"values":[{}]},"mark":{"type":"rule","color":"#a8a8a8","strokeWidth":1},"encoding":{"x":{"datum":129.1},"x2":{"datum":135.3},"y":{"datum":-0.98}}},
 {"data":{"values":[{}]},"mark":{"type":"text","align":"right","baseline":"middle","font":"Noto Sans CJK SC","fontSize":12.5,"color":"#222"},"encoding":{"x":{"datum":147.4},"y":{"datum":-0.98},"text":{"value":"坐下去"}}}
]},
{"width":556,"height":24,"layer":[
 {"data":{"name":"d"},"transform":[{"filter":{"field":"act","equal":"跳绳"}},{"fold":["x","y","z"],"as":["axis","v"]}],
  "mark":{"type":"line","strokeWidth":0.8,"interpolate":"monotone"},
  "encoding":{"x":{"field":"t","type":"quantitative","scale":{"domain":[0,149.3],"nice":false},"axis":{"values":[0,10,20,30,40,50,60,70,80,90,100,110,120],"title":null}},
   "y":{"field":"v","type":"quantitative","scale":{"domain":[-1.95,1.3],"nice":false},"axis":{"values":[-1,0,1],"title":null}},
   "stroke":{"field":"axis","type":"nominal","scale":{"domain":["x","y","z"],"range":["#9a9a9a","#666666","#222222"]},"legend":null}}},
 {"data":{"values":[{}]},"mark":{"type":"rule","color":"#a8a8a8","strokeWidth":1},"encoding":{"x":{"datum":132.1},"x2":{"datum":138},"y":{"datum":-0.68}}},
 {"data":{"values":[{}]},"mark":{"type":"text","align":"right","baseline":"middle","font":"Noto Sans CJK SC","fontSize":12.5,"color":"#222"},"encoding":{"x":{"datum":147.4},"y":{"datum":-0.68},"text":{"value":"跳绳"}}}
]},
{"width":556,"height":24,"layer":[
 {"data":{"name":"d"},"transform":[{"filter":{"field":"act","equal":"静止"}},{"fold":["x","y","z"],"as":["axis","v"]}],
  "mark":{"type":"line","strokeWidth":0.8,"interpolate":"monotone"},
  "encoding":{"x":{"field":"t","type":"quantitative","scale":{"domain":[0,149.3],"nice":false},"axis":{"values":[0,10,20,30,40,50,60,70,80,90,100,110,120],"title":null}},
   "y":{"field":"v","type":"quantitative","scale":{"domain":[-1.95,1.3],"nice":false},"axis":{"values":[-1,0,1],"title":null}},
   "stroke":{"field":"axis","type":"nominal","scale":{"domain":["x","y","z"],"range":["#9a9a9a","#666666","#222222"]},"legend":null}}},
 {"data":{"values":[{}]},"mark":{"type":"rule","color":"#a8a8a8","strokeWidth":1},"encoding":{"x":{"datum":132.1},"x2":{"datum":138},"y":{"datum":-0.45}}},
 {"data":{"values":[{}]},"mark":{"type":"text","align":"right","baseline":"middle","font":"Noto Sans CJK SC","fontSize":12.5,"color":"#222"},"encoding":{"x":{"datum":147.4},"y":{"datum":-0.45},"text":{"value":"静止"}}}
]},
{"width":556,"height":24,"layer":[
 {"data":{"name":"d"},"transform":[{"filter":{"field":"act","equal":"快走"}},{"fold":["x","y","z"],"as":["axis","v"]}],
  "mark":{"type":"line","strokeWidth":0.8,"interpolate":"monotone"},
  "encoding":{"x":{"field":"t","type":"quantitative","scale":{"domain":[0,149.3],"nice":false},"axis":{"values":[0,10,20,30,40,50,60,70,80,90,100,110,120],"title":null}},
   "y":{"field":"v","type":"quantitative","scale":{"domain":[-1.95,1.3],"nice":false},"axis":{"values":[-1,0,1],"title":"加速度","titleFont":"Noto Sans CJK SC","titleFontSize":16,"titleColor":"#222","titlePadding":4}},
   "stroke":{"field":"axis","type":"nominal","scale":{"domain":["x","y","z"],"range":["#9a9a9a","#666666","#222222"]},"legend":null}}},
 {"data":{"values":[{}]},"mark":{"type":"rule","color":"#a8a8a8","strokeWidth":1},"encoding":{"x":{"datum":132.1},"x2":{"datum":138},"y":{"datum":-0.76}}},
 {"data":{"values":[{}]},"mark":{"type":"text","align":"right","baseline":"middle","font":"Noto Sans CJK SC","fontSize":12.5,"color":"#222"},"encoding":{"x":{"datum":147.4},"y":{"datum":-0.76},"text":{"value":"快走"}}}
]},
{"width":556,"height":24,"layer":[
 {"data":{"name":"d"},"transform":[{"filter":{"field":"act","equal":"走上楼梯"}},{"fold":["x","y","z"],"as":["axis","v"]}],
  "mark":{"type":"line","strokeWidth":0.8,"interpolate":"monotone"},
  "encoding":{"x":{"field":"t","type":"quantitative","scale":{"domain":[0,149.3],"nice":false},"axis":{"values":[0,10,20,30,40,50,60,70,80,90,100,110,120],"title":null}},
   "y":{"field":"v","type":"quantitative","scale":{"domain":[-1.95,1.3],"nice":false},"axis":{"values":[-1,0,1],"title":null}},
   "stroke":{"field":"axis","type":"nominal","scale":{"domain":["x","y","z"],"range":["#9a9a9a","#666666","#222222"]},"legend":null}}},
 {"data":{"values":[{}]},"mark":{"type":"rule","color":"#a8a8a8","strokeWidth":1},"encoding":{"x":{"datum":126.4},"x2":{"datum":130.7},"y":{"datum":-1.4}}},
 {"data":{"values":[{}]},"mark":{"type":"text","align":"right","baseline":"middle","font":"Noto Sans CJK SC","fontSize":12.5,"color":"#222"},"encoding":{"x":{"datum":147.4},"y":{"datum":-1.26},"text":{"value":"走上楼梯"}}}
]},
{"width":556,"height":24,"layer":[
 {"data":{"name":"d"},"transform":[{"filter":{"field":"act","equal":"站起来"}},{"fold":["x","y","z"],"as":["axis","v"]}],
  "mark":{"type":"line","strokeWidth":0.8,"interpolate":"monotone"},
  "encoding":{"x":{"field":"t","type":"quantitative","scale":{"domain":[0,149.3],"nice":false},"axis":{"values":[0,10,20,30,40,50,60,70,80,90,100,110,120],"title":null}},
   "y":{"field":"v","type":"quantitative","scale":{"domain":[-1.95,1.3],"nice":false},"axis":{"values":[-1,0,1],"title":null}},
   "stroke":{"field":"axis","type":"nominal","scale":{"domain":["x","y","z"],"range":["#9a9a9a","#666666","#222222"]},"legend":null}}},
 {"data":{"values":[{}]},"mark":{"type":"rule","color":"#a8a8a8","strokeWidth":1},"encoding":{"x":{"datum":129.1},"x2":{"datum":135.3},"y":{"datum":-0.7}}},
 {"data":{"values":[{}]},"mark":{"type":"text","align":"right","baseline":"middle","font":"Noto Sans CJK SC","fontSize":12.5,"color":"#222"},"encoding":{"x":{"datum":147.4},"y":{"datum":-0.7},"text":{"value":"站起来"}}}
]},
{"width":556,"height":24,"layer":[
 {"data":{"name":"d"},"transform":[{"filter":{"field":"act","equal":"慢跑"}},{"fold":["x","y","z"],"as":["axis","v"]}],
  "mark":{"type":"line","strokeWidth":0.8,"interpolate":"monotone"},
  "encoding":{"x":{"field":"t","type":"quantitative","scale":{"domain":[0,149.3],"nice":false},"axis":{"values":[0,10,20,30,40,50,60,70,80,90,100,110,120],"title":null}},
   "y":{"field":"v","type":"quantitative","scale":{"domain":[-1.95,1.3],"nice":false},"axis":{"values":[-1,0,1],"title":null}},
   "stroke":{"field":"axis","type":"nominal","scale":{"domain":["x","y","z"],"range":["#9a9a9a","#666666","#222222"]},"legend":null}}},
 {"data":{"values":[{}]},"mark":{"type":"rule","color":"#a8a8a8","strokeWidth":1},"encoding":{"x":{"datum":132.1},"x2":{"datum":138},"y":{"datum":-1.0}}},
 {"data":{"values":[{}]},"mark":{"type":"text","align":"right","baseline":"middle","font":"Noto Sans CJK SC","fontSize":12.5,"color":"#222"},"encoding":{"x":{"datum":147.4},"y":{"datum":-1.0},"text":{"value":"慢跑"}}}
]},
{"width":556,"height":24,"layer":[
 {"data":{"name":"d"},"transform":[{"filter":{"field":"act","equal":"走下楼梯"}},{"fold":["x","y","z"],"as":["axis","v"]}],
  "mark":{"type":"line","strokeWidth":0.8,"interpolate":"monotone"},
  "encoding":{"x":{"field":"t","type":"quantitative","scale":{"domain":[0,149.3],"nice":false},"axis":{"values":[0,10,20,30,40,50,60,70,80,90,100,110,120],"labels":true,"labelFont":"'Liberation Serif', serif","labelFontSize":14,"labelColor":"#000","labelPadding":2,"title":"数据点 / Hz","titleFont":"'Liberation Serif', 'Noto Sans CJK SC', serif","titleFontSize":14,"titleColor":"#000","titlePadding":5}},
   "y":{"field":"v","type":"quantitative","scale":{"domain":[-1.95,1.3],"nice":false},"axis":{"values":[-1,0,1],"title":null}},
   "stroke":{"field":"axis","type":"nominal","scale":{"domain":["x","y","z"],"range":["#9a9a9a","#666666","#222222"]},"legend":null}}},
 {"data":{"values":[{}]},"mark":{"type":"rule","color":"#a8a8a8","strokeWidth":1},"encoding":{"x":{"datum":125.9},"x2":{"datum":131.3},"y":{"datum":-0.8}}},
 {"data":{"values":[{}]},"mark":{"type":"text","align":"right","baseline":"middle","font":"Noto Sans CJK SC","fontSize":12.5,"color":"#222"},"encoding":{"x":{"datum":147.4},"y":{"datum":-0.8},"text":{"value":"走下楼梯"}}}
]}
]
}
